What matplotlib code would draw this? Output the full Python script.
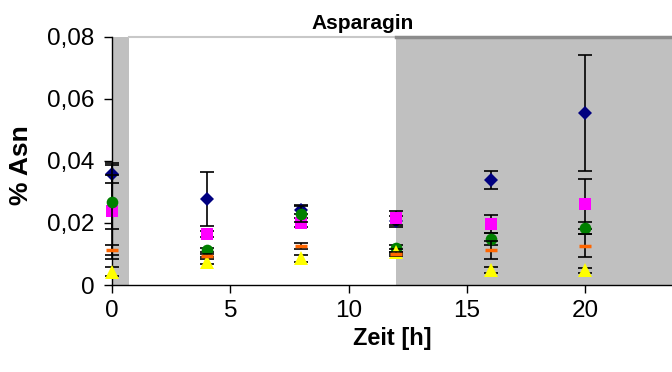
import matplotlib
matplotlib.use("Agg")
import matplotlib.pyplot as plt
from matplotlib.ticker import FixedLocator, FuncFormatter

plt.rcParams['font.family'] = ['Liberation Sans', 'DejaVu Sans']

# Data
zeit = [0, 4, 8, 12, 16, 20]

s1_y = [0.0358, 0.0276, 0.0243, 0.0205, 0.0339, 0.0554]
s1_e = [0.0030, 0.0087, 0.0015, 0.0017, 0.0028, 0.0187]

s2_y = [0.0239, 0.0165, 0.0201, 0.0217, 0.0197, 0.0261]
s2_e = [0.0155, 0.0010, 0.0015, 0.0022, 0.0029, 0.0080]

s3_y = [0.0267, 0.0113, 0.0229, 0.0118, 0.0148, 0.0183]
s3_e = [0.0087, 0.0007, 0.0026, 0.0012, 0.0020, 0.0020]

s4_y = [0.0043, 0.0075, 0.0086, 0.0108, 0.0048, 0.0048]
s4_e = [0.0015, 0.0008, 0.0012, 0.0008, 0.0010, 0.0008]

s5_y = [0.0113, 0.0095, 0.0127, 0.0099, 0.0113, 0.0126]
s5_e = [0.0017, 0.0005, 0.0010, 0.0006, 0.0030, 0.0037]

shade_spans = [(0, 0.7), (12, 30)]

x_ticks = [0, 5, 10, 15, 20]
y_ticks = [0, 0.02, 0.04, 0.06, 0.08]

W, H = 672, 372
fig = plt.figure(figsize=(W / 100, H / 100), dpi=100)
ax_left, ax_right = 112, 112 + 25 * 23.66
ax_bottom, ax_top = 285, 37
ax = fig.add_axes([ax_left / W, 1 - ax_bottom / H, (ax_right - ax_left) / W, (ax_bottom - ax_top) / H])
ax.set_xlim(0, 25)
ax.set_ylim(0, 0.08)

for a, b in shade_spans:
    ax.axvspan(a, b, color='#c0c0c0', lw=0, zorder=0)
ax.plot([0.7, 12], [0.08, 0.08], color='#c8c8c8', lw=1.5, zorder=1, clip_on=False)
ax.plot([12, 25], [0.08, 0.08], color='#8c8c8c', lw=2.5, zorder=1, clip_on=False)

series = [
    (s1_y, s1_e, 'D', '#000080', 6.8, {}),
    (s2_y, s2_e, 's', '#ff00ff', 8.4, {}),
    (s3_y, s3_e, 'o', '#008000', 8.4, {}),
    (s4_y, s4_e, '^', '#ffff00', 9.4, {}),
    (s5_y, s5_e, '_', '#ff6600', 8.6, {'markeredgewidth': 2.5}),
]
z = 3
for y, e, m, c, ms, extra in series:
    eb = ax.errorbar(zeit, y, yerr=e, fmt='none', ecolor='black', elinewidth=1.2,
                     capsize=5, capthick=1.2, zorder=z)
    for art in eb.lines[1] + eb.lines[2]:
        art.set_clip_on(False)
    kw = dict(markeredgewidth=0)
    kw.update(extra)
    if m == '_':
        kw['markeredgecolor'] = c
    ax.plot(zeit, y, linestyle='none', marker=m, color=c, markersize=ms, zorder=z + 1,
            clip_on=False, **kw)
    z += 2

for s in ['top', 'right']:
    ax.spines[s].set_visible(False)
ax.spines['left'].set_linewidth(1.0)
ax.spines['bottom'].set_linewidth(1.0)
ax.spines['left'].set_zorder(2)

ax.xaxis.set_major_locator(FixedLocator(x_ticks))
ax.yaxis.set_major_locator(FixedLocator(y_ticks))
ax.yaxis.set_major_formatter(FuncFormatter(lambda v, p: '0' if v == 0 else f"{v:.2f}".replace('.', ',')))
ax.xaxis.set_major_formatter(FuncFormatter(lambda v, p: f"{int(round(v))}"))
ax.tick_params(axis='both', direction='out', length=5.5, width=1.0, labelsize=17.5, colors='black')
ax.tick_params(axis='y', pad=7)
ax.tick_params(axis='x', pad=5)

fig.text(363 / W, 1 - 29 / H, 'Asparagin', ha='center', va='baseline', fontsize=15, fontweight='bold')
fig.text(392 / W, 1 - 345 / H, 'Zeit [h]', ha='center', va='baseline', fontsize=17, fontweight='bold')
fig.text(21 / W, 1 - 165 / H, '% Asn', ha='center', va='center', rotation=90, fontsize=19, fontweight='bold')

fig.savefig('out.png', dpi=100)
